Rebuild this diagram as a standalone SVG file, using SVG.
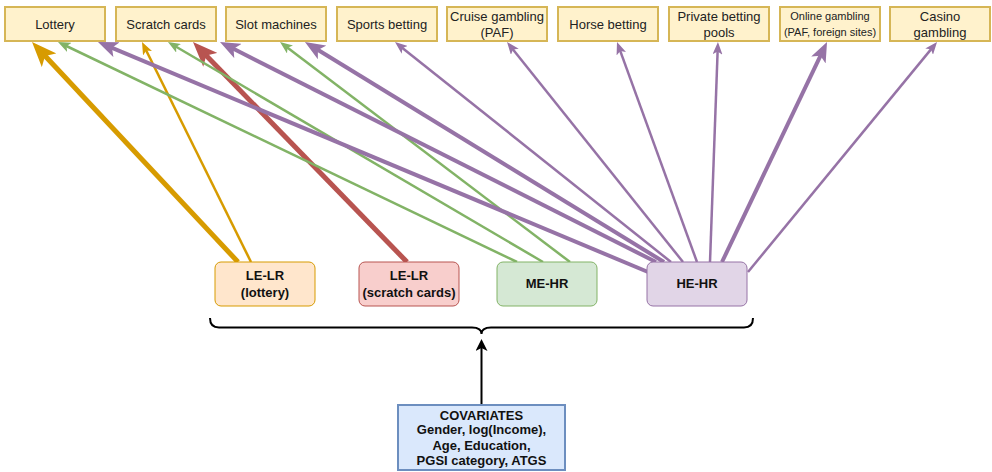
<svg xmlns="http://www.w3.org/2000/svg" width="992" height="472" viewBox="0 0 992 472">
<style>
.top rect{fill:#fff2cc;stroke:#d6b656;stroke-width:2}
.top text{font-family:"Liberation Sans",Arial,sans-serif;font-size:13px;fill:#222;text-anchor:middle}
.top text.sm{font-size:11px}
.grp text{font-family:"Liberation Sans",Arial,sans-serif;font-size:13px;font-weight:bold;fill:#111;text-anchor:middle}
.e{fill:none;stroke-linecap:butt}
.t{stroke-width:2.5}
.or{stroke:#d79b00}
.rd{stroke:#b85450}
.gr{stroke:#82b366}
.pu{stroke:#9673a6}
</style>
<defs>
<marker id="mo" viewBox="0 0 5 4" refX="1.5" refY="2" markerWidth="5" markerHeight="4" orient="auto" markerUnits="strokeWidth"><path d="M0,0 L5,2 L0,4 L1.2,2 Z" fill="#d79b00"/></marker>
<marker id="mr" viewBox="0 0 5 4" refX="1.5" refY="2" markerWidth="5" markerHeight="4" orient="auto" markerUnits="strokeWidth"><path d="M0,0 L5,2 L0,4 L1.2,2 Z" fill="#b85450"/></marker>
<marker id="mp" viewBox="0 0 5 4" refX="1.5" refY="2" markerWidth="5" markerHeight="4" orient="auto" markerUnits="strokeWidth"><path d="M0,0 L5,2 L0,4 L1.2,2 Z" fill="#9673a6"/></marker>
<marker id="mot" viewBox="0 0 5 4" refX="2.2" refY="2" markerWidth="5" markerHeight="4" orient="auto" markerUnits="strokeWidth"><path d="M0,0 L5,2 L0,4 L1.2,2 Z" fill="#d79b00"/></marker>
<marker id="mgt" viewBox="0 0 5 4" refX="2.2" refY="2" markerWidth="5" markerHeight="4" orient="auto" markerUnits="strokeWidth"><path d="M0,0 L5,2 L0,4 L1.2,2 Z" fill="#82b366"/></marker>
<marker id="mpt" viewBox="0 0 5 4" refX="2.2" refY="2" markerWidth="5" markerHeight="4" orient="auto" markerUnits="strokeWidth"><path d="M0,0 L5,2 L0,4 L1.2,2 Z" fill="#9673a6"/></marker>
<marker id="mk" viewBox="0 0 6 6" refX="1.5" refY="3" markerWidth="6" markerHeight="6" orient="auto" markerUnits="strokeWidth"><path d="M0,0 L6,3 L0,6 L1.5,3 Z" fill="#000"/></marker>
</defs>
<rect width="992" height="472" fill="#fff"/>

<g id="connectors">
<line class="e or" x1="238" y1="262" x2="44" y2="54.8" stroke-width="5" marker-end="url(#mo)"/>
<line class="e or t" x1="251" y1="262" x2="145.1" y2="48.3" marker-end="url(#mot)"/>
<line class="e rd" x1="407" y1="262" x2="205.2" y2="54.5" stroke-width="5" marker-end="url(#mr)"/>
<line class="e gr t" x1="517" y1="262" x2="64.3" y2="45" marker-end="url(#mgt)"/>
<line class="e gr t" x1="543" y1="262" x2="174" y2="45.5" marker-end="url(#mgt)"/>
<line class="e gr t" x1="570" y1="262" x2="285.6" y2="46.2" marker-end="url(#mgt)"/>
<line class="e pu" x1="648" y1="272" x2="110.9" y2="47.4" stroke-width="4" marker-end="url(#mp)"/>
<line class="e pu" x1="656" y1="262" x2="232.5" y2="48.3" stroke-width="4" marker-end="url(#mp)"/>
<line class="e pu" x1="664" y1="262" x2="316.9" y2="49.3" stroke-width="4" marker-end="url(#mp)"/>
<line class="e pu t" x1="671" y1="262" x2="400.5" y2="46.4" marker-end="url(#mpt)"/>
<line class="e pu t" x1="683" y1="262" x2="511.4" y2="47.5" marker-end="url(#mpt)"/>
<line class="e pu t" x1="697" y1="262" x2="619.4" y2="48.6" marker-end="url(#mpt)"/>
<line class="e pu t" x1="710" y1="262" x2="717.7" y2="49" marker-end="url(#mpt)"/>
<line class="e pu" x1="722" y1="262" x2="821" y2="54.6" stroke-width="4" marker-end="url(#mp)"/>
<line class="e pu t" x1="748" y1="272" x2="932.6" y2="47.4" marker-end="url(#mpt)"/>
<path id="brace" d="M210,318 Q210,327.5 219,327.5 L472,327.5 Q481.5,327.5 481.5,334 Q481.5,327.5 491,327.5 L744,327.5 Q753,327.5 753,318" fill="none" stroke="#000" stroke-width="2"/>
<line x1="481.5" y1="405" x2="481.5" y2="348" stroke="#000" stroke-width="2" marker-end="url(#mk)"/>
</g>

<g id="n-lottery" class="top"><rect x="5" y="7" width="100" height="34"/><text x="55" y="28.5">Lottery</text></g>
<g id="n-scratch" class="top"><rect x="116" y="7" width="100" height="34"/><text x="166" y="28.5">Scratch cards</text></g>
<g id="n-slot" class="top"><rect x="226" y="7" width="100" height="34"/><text x="276" y="28.5">Slot machines</text></g>
<g id="n-sports" class="top"><rect x="337" y="7" width="100" height="34"/><text x="387" y="28.5">Sports betting</text></g>
<g id="n-cruise" class="top"><rect x="447" y="7" width="100" height="34"/><text x="497" y="20.5">Cruise gambling</text><text x="497" y="36.5">(PAF)</text></g>
<g id="n-horse" class="top"><rect x="558" y="7" width="100" height="34"/><text x="608" y="28.5">Horse betting</text></g>
<g id="n-private" class="top"><rect x="669" y="7" width="100" height="34"/><text x="719" y="20.5">Private betting</text><text x="719" y="36.5">pools</text></g>
<g id="n-online" class="top"><rect x="780" y="7" width="100" height="34"/><text class="sm" x="830" y="20">Online gambling</text><text class="sm" x="830" y="36">(PAF, foreign sites)</text></g>
<g id="n-casino" class="top"><rect x="890" y="7" width="100" height="34"/><text x="940" y="20.5">Casino</text><text x="940" y="36.5">gambling</text></g>

<g id="n-lelr-lottery" class="grp"><rect x="215" y="262" width="100" height="44" rx="6" fill="#ffe6cc" stroke="#d79b00" stroke-width="1"/><text x="265" y="279.5">LE-LR</text><text x="265" y="296.5">(lottery)</text></g>
<g id="n-lelr-scratch" class="grp"><rect x="359" y="262" width="100" height="44" rx="6" fill="#f8cecc" stroke="#b85450" stroke-width="1"/><text x="409" y="279.5">LE-LR</text><text x="409" y="296.5">(scratch cards)</text></g>
<g id="n-mehr" class="grp"><rect x="497" y="262" width="100" height="44" rx="6" fill="#d5e8d4" stroke="#82b366" stroke-width="1"/><text x="547" y="288">ME-HR</text></g>
<g id="n-hehr" class="grp"><rect x="647" y="262" width="100" height="44" rx="6" fill="#e1d5e7" stroke="#9673a6" stroke-width="1"/><text x="697" y="288">HE-HR</text></g>

<g id="n-covariates" class="grp"><rect x="398" y="405" width="167" height="65" fill="#dae8fc" stroke="#6c8ebf" stroke-width="2"/><text x="481.5" y="419.5">COVARIATES</text><text x="481.5" y="434">Gender, log(Income),</text><text x="481.5" y="449.5">Age, Education,</text><text x="481.5" y="464.5">PGSI category, ATGS</text></g>
</svg>
